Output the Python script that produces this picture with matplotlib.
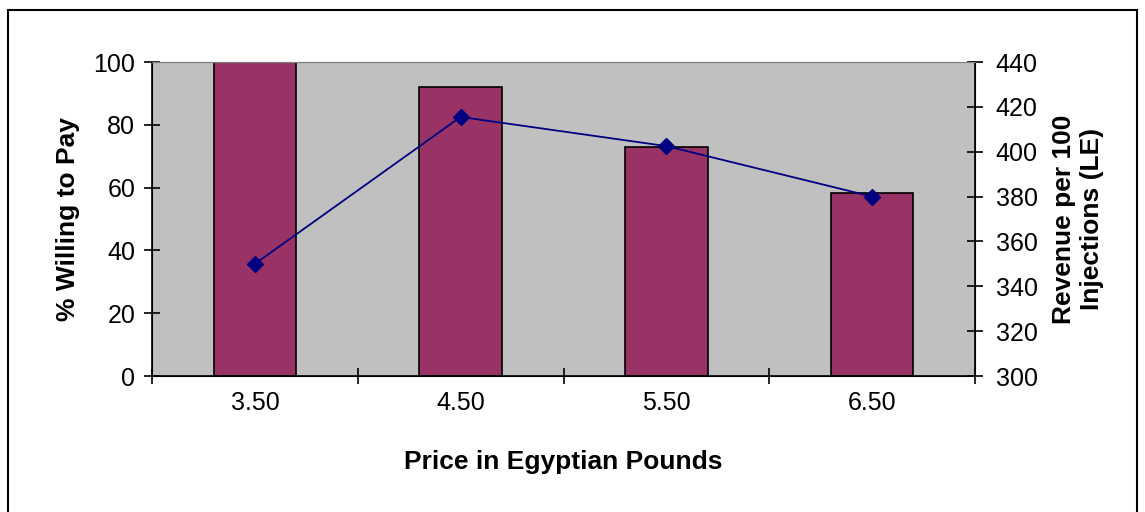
import numpy as np
import matplotlib
matplotlib.use('Agg')
import matplotlib.pyplot as plt
from matplotlib.patches import Rectangle

plt.rcParams['font.family'] = ['Liberation Sans', 'DejaVu Sans']

prices = ['3.50', '4.50', '5.50', '6.50']
pct_willing = [100, 92, 73, 58.3]
revenue = [350, 415.5, 402.5, 380]

fs = 18
lfs = 19

fig = plt.figure(figsize=(11.45, 5.12), dpi=100)
fig.patches.append(Rectangle((8 / 1145, -0.1), 1129 / 1145, 1 - 10 / 512 + 0.1,
                             transform=fig.transFigure, fill=False,
                             edgecolor='black', linewidth=1.5))

ax1 = fig.add_axes([152 / 1145, 1 - 376 / 512, 823 / 1145, 314 / 512])
ax1.set_facecolor('#C0C0C0')
x = np.arange(len(prices))
ax1.bar(x, pct_willing, width=0.4, color='#993366', edgecolor='black', linewidth=1.2, zorder=2)
ax1.set_xlim(-0.5, 3.5)
ax1.set_ylim(0, 100)
ax1.set_yticks(range(0, 101, 20))
ax1.set_xticks(np.arange(-0.5, 4, 1))
ax1.set_xticklabels([])
ax1.set_xticks(x, minor=True)
ax1.set_xticklabels(prices, minor=True)
ax1.tick_params(axis='x', which='minor', length=0, labelsize=fs, pad=11)
ax1.tick_params(axis='x', which='major', direction='inout', length=12, width=1.2)
ax1.tick_params(axis='y', direction='inout', length=12, width=1.2, labelsize=fs, pad=6)
ax1.set_ylabel('% Willing to Pay', fontsize=lfs, fontweight='bold', labelpad=10)
ax1.set_xlabel('Price in Egyptian Pounds', fontsize=lfs, fontweight='bold', labelpad=25)
ax1.spines['top'].set_color('#808080')
ax1.spines['left'].set_linewidth(1.2)
ax1.spines['bottom'].set_linewidth(1.2)

ax2 = ax1.twinx()
ax2.plot(x, revenue, color='#000080', marker='D', markersize=8, linewidth=1.3, zorder=3)
ax2.set_ylim(300, 440)
ax2.set_yticks(range(300, 441, 20))
ax2.tick_params(axis='y', direction='inout', length=12, width=1.2, labelsize=fs, pad=9)
ax2.set_ylabel('Revenue per 100\nInjections (LE)', fontsize=lfs, fontweight='bold',
               labelpad=10, linespacing=1.25)
ax2.spines['right'].set_linewidth(1.2)
ax2.spines['top'].set_color('#808080')

fig.savefig('out.png', dpi=100)
